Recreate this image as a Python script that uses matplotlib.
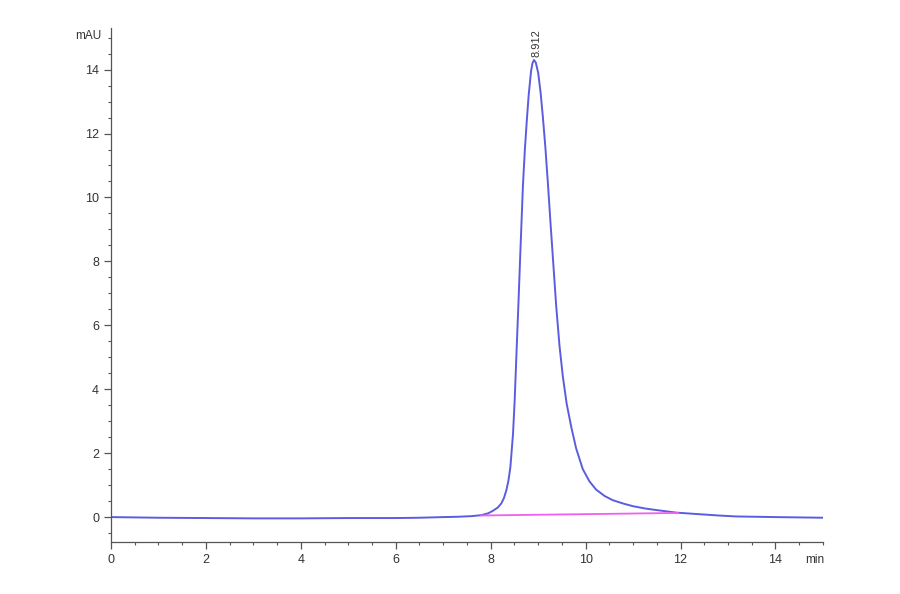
import numpy as np
import matplotlib
matplotlib.use("Agg")
import matplotlib.pyplot as plt
from matplotlib.ticker import MultipleLocator

plt.rcParams["font.family"] = ["Liberation Sans", "DejaVu Sans"]

# chromatogram (time in min, signal in mAU)
time_min = [0, 1, 2, 3, 4, 5, 6, 6.5, 7, 7.3, 7.6, 7.8, 7.95, 8.05, 8.15,
            8.225, 8.28, 8.33, 8.375, 8.415, 8.47, 8.505, 8.54, 8.59, 8.625,
            8.68, 8.72, 8.765, 8.8, 8.85, 8.88, 8.912, 8.95, 9.0, 9.05, 9.1,
            9.15, 9.207, 9.26, 9.32, 9.38, 9.45, 9.52, 9.6, 9.7, 9.8, 9.94,
            10.08, 10.22, 10.4, 10.57, 10.8, 11.0, 11.25, 11.49, 11.91, 12.4,
            12.8, 13.17, 13.6, 14.0, 14.5, 15.0]
signal_mau = [0.0, -0.02, -0.03, -0.04, -0.04, -0.03, -0.03, -0.02, 0.0, 0.01,
              0.03, 0.06, 0.12, 0.2, 0.3, 0.43, 0.6, 0.84, 1.15, 1.57, 2.6,
              3.65, 5.0, 6.9, 8.3, 10.4, 11.5, 12.5, 13.2, 13.95, 14.2, 14.3,
              14.22, 13.9, 13.3, 12.5, 11.6, 10.4, 9.2, 7.9, 6.6, 5.35, 4.4,
              3.55, 2.8, 2.15, 1.5, 1.12, 0.86, 0.66, 0.53, 0.42, 0.34, 0.27,
              0.22, 0.14, 0.09, 0.05, 0.02, 0.01, 0.0, -0.01, -0.02]

# integration baseline
base_t = [7.8, 11.95]
base_y = [0.05, 0.13]

peak_rt = 8.912
peak_h = 14.3

fig = plt.figure(figsize=(9, 5.94), dpi=100)
ax = fig.add_axes([0.1233, 0.0875, 0.7911, 0.8653])

ax.plot(time_min, signal_mau, color="#5c5ce0", lw=1.4)
ax.plot(base_t, base_y, color="#f060f0", lw=1.3)

ax.text(peak_rt + 0.05, peak_h + 0.1, "8.912", rotation=90, ha="center",
        va="bottom", fontsize=8, color="#333333")

ax.set_xlim(0, 15)
ax.set_ylim(-0.78, 15.3)

for s in ["top", "right"]:
    ax.spines[s].set_visible(False)
for s in ["left", "bottom"]:
    ax.spines[s].set_color("#555555")
    ax.spines[s].set_linewidth(0.9)

ax.xaxis.set_major_locator(MultipleLocator(2))
ax.xaxis.set_minor_locator(MultipleLocator(0.5))
ax.yaxis.set_major_locator(MultipleLocator(2))
ax.yaxis.set_minor_locator(MultipleLocator(0.5))
ax.tick_params(which="major", direction="out", length=5, width=0.9,
               color="#555555", labelsize=9, labelcolor="#333333")
ax.tick_params(which="minor", direction="out", length=2.5, width=0.8,
               color="#555555")

fig.text(0.113, 0.94, "mAU", ha="right", va="center", fontsize=8.5,
         color="#333333")
fig.text(0.905, 0.057, "min", ha="center", va="center", fontsize=8.5,
         color="#333333")

fig.savefig("out.png", dpi=100)
